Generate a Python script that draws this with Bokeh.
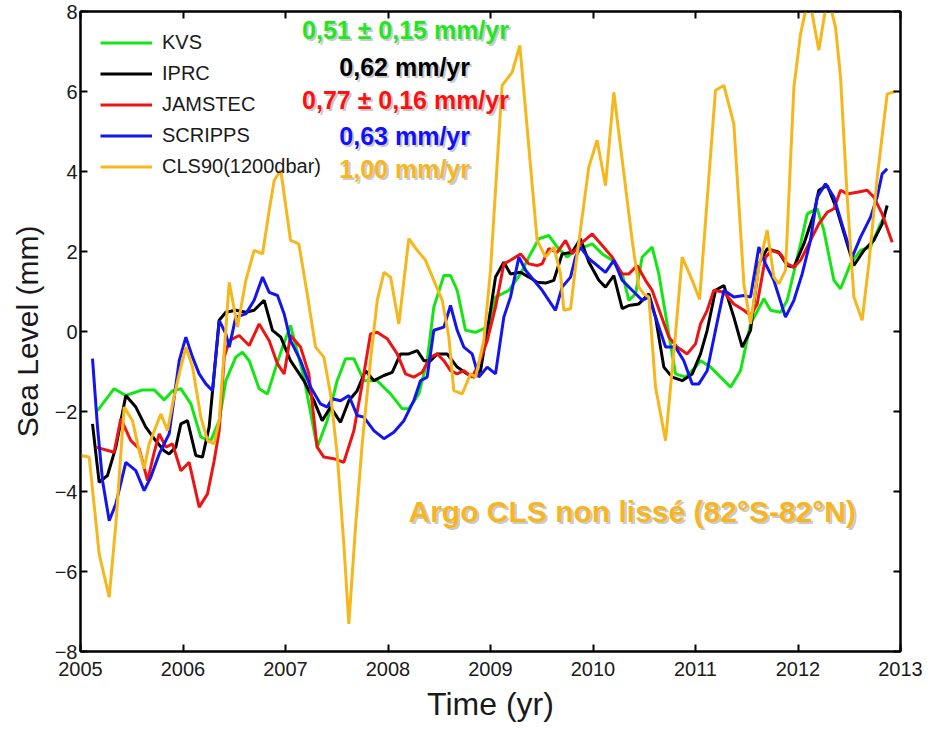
from bokeh.plotting import figure
from bokeh.models import Range1d, LinearAxis, FixedTicker, Label, Legend, LegendItem, CustomJSTickFormatter
from bokeh.embed import file_html
from bokeh.resources import INLINE

# ---------------- data ----------------
kvs_t = [2005.166, 2005.328, 2005.442, 2005.605, 2005.719, 2005.816, 2005.898, 2005.979, 2006.077, 2006.174,
         2006.272, 2006.353, 2006.418, 2006.515, 2006.580, 2006.646, 2006.743, 2006.824, 2006.906, 2006.971,
         2007.049, 2007.179, 2007.309, 2007.407, 2007.504, 2007.586, 2007.667, 2007.764, 2007.895, 2008.025,
         2008.138, 2008.203, 2008.301, 2008.382, 2008.447, 2008.545, 2008.610, 2008.675, 2008.756, 2008.854,
         2008.935, 2009.000, 2009.049, 2009.179, 2009.293, 2009.374, 2009.472, 2009.569, 2009.651, 2009.748,
         2009.829, 2009.911, 2009.992, 2010.090, 2010.187, 2010.285, 2010.350, 2010.415, 2010.480, 2010.577,
         2010.642, 2010.740, 2010.805, 2010.903, 2011.000, 2011.049, 2011.147, 2011.244, 2011.342, 2011.439,
         2011.537, 2011.667, 2011.732, 2011.830, 2011.895, 2012.025, 2012.090, 2012.187, 2012.252, 2012.350,
         2012.415, 2012.512, 2012.610, 2012.707, 2012.805, 2012.850]
kvs_v = [-1.98, -1.43, -1.60, -1.46, -1.46, -1.71, -1.48, -1.43, -1.81, -2.64,
         -2.73, -2.23, -1.23, -0.64, -0.52, -0.73, -1.43, -1.56, -0.89, -0.39,
         0.15, -1.14, -2.89, -2.23, -1.23, -0.68, -0.68, -1.23, -1.23, -1.56,
         -1.93, -1.93, -1.56, -0.73, 0.61, 1.40, 1.40, 1.03, 0.03, -0.02,
         0.07, 0.19, 0.86, 1.03, 1.44, 1.86, 2.32, 2.40, 2.11, 1.86,
         2.03, 2.11, 2.19, 1.94, 1.78, 1.44, 0.78, 0.94, 1.86, 2.11,
         1.44, -0.06, -1.06, -1.14, -0.89, -0.73, -0.89, -1.14, -1.39, -0.98,
         0.19, 0.82, 0.53, 0.48, 0.78, 2.19, 2.94, 3.07, 2.53, 1.28,
         1.07, 1.69, 2.03, 2.11, 2.69, 2.90]

iprc_t = [2005.117, 2005.182, 2005.263, 2005.345, 2005.442, 2005.540, 2005.637, 2005.719, 2005.816, 2005.865,
          2005.930, 2005.979, 2006.044, 2006.125, 2006.190, 2006.255, 2006.353, 2006.418, 2006.515, 2006.613,
          2006.694, 2006.792, 2006.873, 2006.954, 2007.049, 2007.179, 2007.277, 2007.358, 2007.439, 2007.537,
          2007.618, 2007.699, 2007.781, 2007.862, 2007.960, 2008.041, 2008.122, 2008.203, 2008.285, 2008.350,
          2008.415, 2008.480, 2008.577, 2008.675, 2008.773, 2008.838, 2008.903, 2009.000, 2009.049, 2009.130,
          2009.195, 2009.293, 2009.374, 2009.455, 2009.537, 2009.618, 2009.699, 2009.797, 2009.878, 2009.960,
          2010.057, 2010.122, 2010.203, 2010.285, 2010.350, 2010.447, 2010.545, 2010.610, 2010.691, 2010.773,
          2010.870, 2010.968, 2011.049, 2011.114, 2011.195, 2011.277, 2011.374, 2011.456, 2011.537, 2011.618,
          2011.699, 2011.813, 2011.895, 2011.960, 2012.057, 2012.155, 2012.203, 2012.285, 2012.382, 2012.480,
          2012.545, 2012.643, 2012.740, 2012.821, 2012.870]
iprc_v = [-2.31, -3.77, -3.60, -2.89, -1.60, -1.89, -2.39, -2.68, -2.98, -3.06,
          -2.89, -2.31, -2.23, -3.10, -3.14, -2.39, 0.28, 0.48, 0.53, 0.48,
          0.53, 0.78, 0.03, -0.14, -0.73, -1.23, -1.73, -2.23, -1.89, -2.27,
          -1.73, -1.48, -0.98, -1.23, -1.10, -1.02, -0.56, -0.56, -0.48, -0.73,
          -0.73, -0.56, -0.56, -0.89, -1.06, -1.14, -0.98, 0.53, 1.36, 1.73,
          1.44, 1.48, 1.36, 1.23, 1.21, 1.28, 1.94, 1.98, 2.32, 1.73,
          1.28, 1.11, 1.40, 0.57, 0.65, 0.69, 0.94, 0.36, -0.89, -1.14,
          -1.23, -1.06, -0.56, 0.03, 1.03, 1.15, 0.36, -0.39, 0.03, 1.69,
          2.07, 1.98, 1.65, 1.61, 2.19, 2.94, 3.53, 3.65, 3.03, 2.19,
          1.65, 2.03, 2.28, 2.69, 3.15]

jamstec_t = [2005.150, 2005.328, 2005.393, 2005.491, 2005.572, 2005.654, 2005.719, 2005.768, 2005.833, 2005.898,
             2005.979, 2006.060, 2006.158, 2006.239, 2006.304, 2006.353, 2006.402, 2006.451, 2006.548, 2006.646,
             2006.743, 2006.841, 2006.922, 2006.987, 2007.049, 2007.147, 2007.228, 2007.309, 2007.374, 2007.472,
             2007.569, 2007.667, 2007.748, 2007.829, 2007.895, 2007.992, 2008.090, 2008.171, 2008.252, 2008.333,
             2008.415, 2008.480, 2008.545, 2008.610, 2008.675, 2008.740, 2008.821, 2008.886, 2008.968, 2009.049,
             2009.130, 2009.195, 2009.293, 2009.374, 2009.455, 2009.504, 2009.569, 2009.651, 2009.732, 2009.797,
             2009.878, 2009.992, 2010.090, 2010.187, 2010.285, 2010.350, 2010.431, 2010.512, 2010.577, 2010.659,
             2010.740, 2010.821, 2010.919, 2011.000, 2011.049, 2011.114, 2011.179, 2011.277, 2011.374, 2011.472,
             2011.537, 2011.602, 2011.683, 2011.748, 2011.829, 2011.895, 2011.960, 2012.025, 2012.122, 2012.203,
             2012.285, 2012.350, 2012.415, 2012.480, 2012.577, 2012.675, 2012.740, 2012.821, 2012.919]
jamstec_v = [-2.89, -3.02, -2.18, -2.73, -2.93, -3.73, -3.02, -2.56, -2.89, -2.81,
             -3.48, -3.27, -4.39, -4.06, -3.23, -2.48, -0.64, -0.23, -0.10, -0.35,
             0.19, -0.23, -0.81, -1.06, -0.10, -0.39, -1.06, -2.89, -3.14, -3.18,
             -3.27, -2.48, -1.31, -0.06, -0.02, -0.18, -0.56, -1.06, -1.14, -1.02,
             -0.64, -0.56, -0.73, -0.98, -1.06, -0.98, -1.14, -0.81, -0.23, 0.61,
             1.69, 1.78, 1.94, 1.69, 1.65, 1.69, 2.07, 1.98, 2.28, 1.94,
             2.19, 2.44, 2.15, 1.86, 1.44, 1.44, 1.65, 1.28, 1.03, 0.44,
             -0.14, -0.39, -0.56, -0.31, 0.19, 0.53, 1.03, 0.98, 0.69, 0.53,
             0.40, 0.69, 1.86, 2.03, 1.94, 1.69, 1.61, 1.78, 2.28, 2.69,
             2.98, 3.07, 3.53, 3.44, 3.48, 3.53, 3.36, 2.94, 2.23]

scripps_t = [2005.117, 2005.166, 2005.215, 2005.280, 2005.345, 2005.442, 2005.540, 2005.621, 2005.686, 2005.768,
             2005.865, 2005.963, 2006.028, 2006.093, 2006.158, 2006.223, 2006.288, 2006.353, 2006.418, 2006.451,
             2006.515, 2006.613, 2006.694, 2006.776, 2006.841, 2006.922, 2006.987, 2007.049, 2007.147, 2007.244,
             2007.342, 2007.407, 2007.455, 2007.537, 2007.618, 2007.699, 2007.764, 2007.862, 2007.960, 2008.057,
             2008.155, 2008.252, 2008.317, 2008.382, 2008.447, 2008.545, 2008.610, 2008.675, 2008.740, 2008.821,
             2008.886, 2008.968, 2009.049, 2009.130, 2009.195, 2009.277, 2009.342, 2009.423, 2009.504, 2009.569,
             2009.634, 2009.699, 2009.781, 2009.829, 2009.878, 2009.960, 2010.041, 2010.122, 2010.203, 2010.285,
             2010.382, 2010.480, 2010.545, 2010.610, 2010.708, 2010.805, 2010.886, 2010.968, 2011.033, 2011.114,
             2011.195, 2011.277, 2011.374, 2011.472, 2011.537, 2011.618, 2011.683, 2011.764, 2011.878, 2011.960,
             2012.041, 2012.122, 2012.187, 2012.268, 2012.350, 2012.447, 2012.529, 2012.610, 2012.708, 2012.772,
             2012.821, 2012.870]
scripps_v = [-0.68, -2.39, -3.73, -4.73, -4.31, -3.27, -3.48, -3.98, -3.64, -3.06,
             -2.56, -0.73, -0.14, -0.64, -1.06, -1.31, -1.48, 0.28, -0.06, -0.39,
             0.36, 0.44, 0.78, 1.36, 0.98, 0.90, 0.44, -0.23, -0.73, -1.39,
             -1.81, -1.89, -1.68, -1.73, -1.60, -2.10, -2.14, -2.48, -2.68, -2.52,
             -2.23, -1.73, -1.23, -1.14, 0.03, 0.11, 0.65, 0.03, -0.39, -0.56,
             -1.14, -0.89, -1.06, 0.36, 0.86, 1.86, 1.53, 1.28, 1.03, 0.78,
             0.53, 1.11, 1.36, 1.86, 2.11, 1.82, 1.65, 1.48, 1.78, 1.28,
             1.03, 0.78, 0.86, 0.36, -0.39, -0.39, -0.73, -1.31, -1.31, -0.98,
             0.03, 1.03, 0.86, 0.90, 0.86, 2.11, 1.69, 1.28, 0.36, 0.78,
             1.44, 2.28, 3.36, 3.69, 3.36, 2.53, 1.86, 2.36, 2.86, 3.36,
             3.94, 4.07]

cls90_t = [2005.000, 2005.085, 2005.182, 2005.280, 2005.345, 2005.426, 2005.507, 2005.572, 2005.621, 2005.670,
           2005.784, 2005.849, 2005.898, 2005.963, 2006.028, 2006.093, 2006.174, 2006.239, 2006.304, 2006.353,
           2006.451, 2006.532, 2006.613, 2006.694, 2006.776, 2006.841, 2006.890, 2006.954, 2007.049, 2007.130,
           2007.212, 2007.293, 2007.374, 2007.439, 2007.504, 2007.569, 2007.618, 2007.683, 2007.748, 2007.829,
           2007.895, 2007.960, 2008.025, 2008.106, 2008.203, 2008.285, 2008.366, 2008.447, 2008.529, 2008.594,
           2008.642, 2008.724, 2008.805, 2008.854, 2008.935, 2009.000, 2009.113, 2009.211, 2009.286, 2009.455,
           2009.537, 2009.618, 2009.683, 2009.716, 2009.781, 2009.829, 2009.959, 2010.040, 2010.122, 2010.203,
           2010.382, 2010.447, 2010.496, 2010.545, 2010.610, 2010.708, 2010.805, 2010.870, 2010.968, 2011.040,
           2011.195, 2011.277, 2011.374, 2011.472, 2011.537, 2011.618, 2011.699, 2011.764, 2011.813, 2011.878,
           2011.960, 2012.025, 2012.106, 2012.203, 2012.290, 2012.366, 2012.415, 2012.480, 2012.545, 2012.626,
           2012.691, 2012.773, 2012.870, 2012.950]
cls90_v = [-3.10, -3.14, -5.56, -6.64, -4.81, -1.89, -2.23, -2.98, -3.43, -2.81,
           -2.06, -2.48, -1.81, -1.06, -0.39, -0.89, -2.14, -2.73, -2.81, -2.23,
           1.23, 0.11, 1.28, 2.03, 1.94, 3.03, 3.78, 4.03, 2.28, 2.19,
           0.94, -0.39, -0.64, -1.56, -3.06, -5.31, -7.31, -4.89, -2.81, -0.73,
           0.78, 1.48, 1.36, 0.19, 2.32, 2.03, 1.78, 1.28, 0.78, -0.14,
           -1.48, -1.56, -1.06, -1.14, -0.23, 1.53, 6.15, 6.48, 7.15, 2.28,
           1.86, 2.11, 1.44, 0.53, 0.57, 1.61, 4.11, 4.78, 3.65, 5.98,
           2.28, 1.11, 0.94, 0.86, -1.39, -2.73, -0.06, 1.86, 1.28, 0.80,
           6.03, 6.15, 5.19, 1.19, 0.19, 1.61, 2.53, 1.36, 1.19, 1.53,
           6.11, 7.44, 8.40, 7.03, 8.40, 7.61, 6.36, 3.36, 0.86, 0.28,
           1.69, 3.86, 5.94, 6.00]

series_labels = ["KVS", "IPRC", "JAMSTEC", "SCRIPPS", "CLS90(1200dbar)"]
series_colors = ["#14e614", "#000000", "#ee1414", "#1414ee", "#f5b71c"]
trend_texts = ["0,51 \u00b1 0,15 mm/yr", "0,62 mm/yr", "0,77 \u00b1 0,16 mm/yr", "0,63 mm/yr", "1,00 mm/yr"]
trend_colors = ["#1ee81e", "#000000", "#ff1010", "#1010ff", "#f7b51f"]
year_ticks = [2005, 2006, 2007, 2008, 2009, 2010, 2011, 2012, 2013]
level_ticks = [-8, -6, -4, -2, 0, 2, 4, 6, 8]

all_t = [kvs_t, iprc_t, jamstec_t, scripps_t, cls90_t]
all_v = [kvs_v, iprc_v, jamstec_v, scripps_v, cls90_v]

# ---------------- figure ----------------
p = figure(width=930, height=729, output_backend="svg", toolbar_location=None,
           x_range=Range1d(2005, 2013), y_range=Range1d(-8, 8),
           min_border_left=80, min_border_right=30, min_border_top=11, min_border_bottom=78)
p.background_fill_color = "white"
p.border_fill_color = "white"
p.grid.visible = False
p.outline_line_color = "black"
p.outline_line_width = 2

axis_font = "Liberation Sans"

for ax in p.xaxis:
    ax.ticker = FixedTicker(ticks=year_ticks)
for ax in p.yaxis:
    ax.ticker = FixedTicker(ticks=level_ticks)

p.xaxis.axis_label = "Time (yr)"
p.yaxis.axis_label = "Sea Level (mm)"
for ax in list(p.xaxis) + list(p.yaxis):
    ax.axis_line_color = "black"
    ax.axis_line_width = 2
    ax.major_tick_in = 7
    ax.major_tick_out = 0
    ax.major_tick_line_width = 2
    ax.minor_tick_line_color = None
    ax.major_label_text_font = axis_font
    ax.major_label_text_font_size = "20px"
    ax.major_label_text_color = "#1a1a1a"
    ax.axis_label_text_font = axis_font
    ax.axis_label_text_font_style = "normal"
    ax.axis_label_text_color = "#1a1a1a"
p.xaxis.major_label_standoff = 10
p.xaxis.axis_label_standoff = 7
p.xaxis.axis_label_text_font_size = "32px"
p.yaxis.major_label_standoff = 3
p.yaxis.axis_label_standoff = 8
p.yaxis.axis_label_text_font_size = "30px"

blank = CustomJSTickFormatter(code="return '';")
top_ax = LinearAxis(ticker=FixedTicker(ticks=year_ticks), formatter=blank)
right_ax = LinearAxis(ticker=FixedTicker(ticks=level_ticks), formatter=blank)
for ax in (top_ax, right_ax):
    ax.major_tick_in = 7
    ax.major_tick_out = 0
    ax.major_tick_line_width = 2
    ax.minor_tick_line_color = None
    ax.major_label_text_color = None
    ax.major_label_standoff = 0
    ax.axis_line_color = "black"
    ax.axis_line_width = 2
p.add_layout(top_ax, "above")
p.add_layout(right_ax, "right")

items = []
for t, v, lab, col in zip(all_t, all_v, series_labels, series_colors):
    r = p.line(t, v, line_color=col, line_width=3)
    items.append(LegendItem(label=lab, renderers=[r]))

legend = Legend(items=items, location=(20, 469))
legend.border_line_color = None
legend.background_fill_alpha = 0
legend.label_text_font = axis_font
legend.label_text_font_size = "20px"
legend.label_text_color = "#1a1a1a"
legend.glyph_width = 52
legend.glyph_height = 31
legend.label_height = 31
legend.label_standoff = 10
legend.spacing = 0
legend.padding = 0
legend.margin = 0
p.add_layout(legend)

# trend annotations (right-aligned)
trend_pos = [(2009.18, 7.55), (2008.80, 6.62), (2009.18, 5.78), (2008.80, 4.90), (2008.80, 4.07)]
bold_font = "Liberation Sans"
for (x, y), txt, col in zip(trend_pos, trend_texts, trend_colors):
    p.add_layout(Label(x=x, y=y, text=txt, text_color="#888888", text_alpha=0.45,
                       text_font=bold_font, text_font_size="25px", text_font_style="bold",
                       text_align="right", text_baseline="middle", x_offset=2, y_offset=-2))
    p.add_layout(Label(x=x, y=y, text=txt, text_color=col,
                       text_font=bold_font, text_font_size="25px", text_font_style="bold",
                       text_align="right", text_baseline="middle"))

argo = "Argo CLS non liss\u00e9  (82\u00b0S-82\u00b0N)"
p.add_layout(Label(x=2008.2, y=-4.5, text=argo, text_color="#888888", text_alpha=0.45,
                   text_font=bold_font, text_font_size="30px", text_font_style="bold",
                   text_align="left", text_baseline="middle", x_offset=2, y_offset=-2))
p.add_layout(Label(x=2008.2, y=-4.5, text=argo, text_color="#f7b51f",
                   text_font=bold_font, text_font_size="30px", text_font_style="bold",
                   text_align="left", text_baseline="middle"))

p.add_layout(Label(x=2013.205, y=-9.3, text="11", text_color="#9a9a9a",
                   text_font=bold_font, text_font_size="12px",
                   text_align="center", text_baseline="middle"))

open("out.html", "w").write(file_html(p, INLINE))
